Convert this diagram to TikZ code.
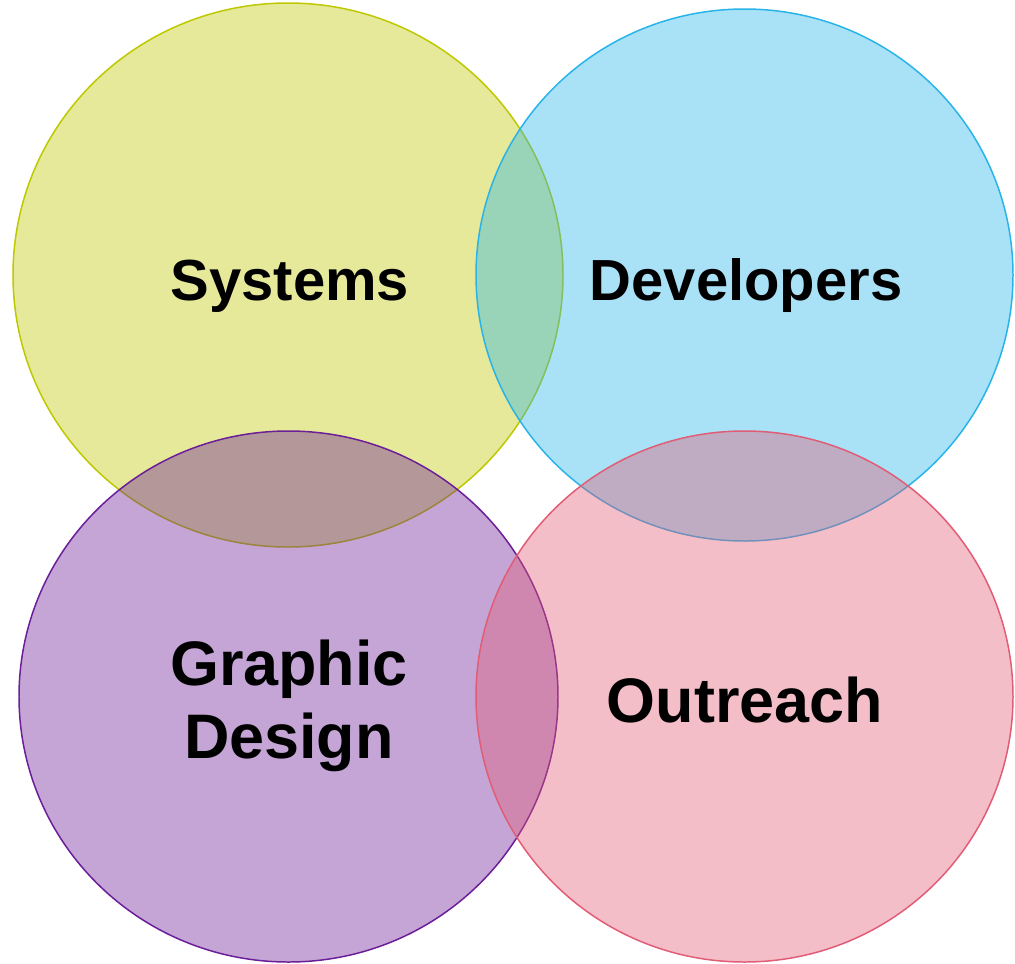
\documentclass[tikz,border=0pt]{standalone}
\usepackage{fontspec}
\setmainfont{Liberation Sans}
\definecolor{sysgreen}{RGB}{190,200,0}
\definecolor{devblue}{RGB}{40,180,232}
\definecolor{gdpurple}{RGB}{107,30,152}
\definecolor{outpink}{RGB}{225,92,117}

\begin{document}
\begin{tikzpicture}[x=0.02cm,y=0.02cm,
        venn/.style={line width=0.85pt,fill opacity=0.4},
        toplabel/.style={font=\bfseries\fontsize{33}{40}\selectfont,anchor=base,inner sep=0pt},
        botlabel/.style={font=\bfseries\fontsize{35.8}{41.4}\selectfont,anchor=base,inner sep=0pt,align=center}]
            \useasboundingbox (0,0) rectangle (1015,-964);
            % the four sets, drawn back to front
            \draw[venn,draw=sysgreen,fill=sysgreen] (288,-275) ellipse [x radius=275,y radius=272];
            \draw[venn,draw=devblue,fill=devblue] (744.5,-275) ellipse [x radius=268.5,y radius=266];
            \draw[venn,draw=gdpurple,fill=gdpurple] (288.5,-696.5) ellipse [x radius=269.5,y radius=265.5];
            \draw[venn,draw=outpink,fill=outpink] (744.5,-696.5) ellipse [x radius=268.5,y radius=265.5];
            % labels (base of a two-line node is its last line)
            \node[toplabel] (systems) at (290,-300) {Systems};
            \node[toplabel] (developers) at (746,-300) {Developers};
            \node[botlabel] (graphic) at (289,-758) {Graphic\\Design};
            \node[botlabel] (outreach) at (745,-722) {Outreach};
        \end{tikzpicture}
\end{document}
